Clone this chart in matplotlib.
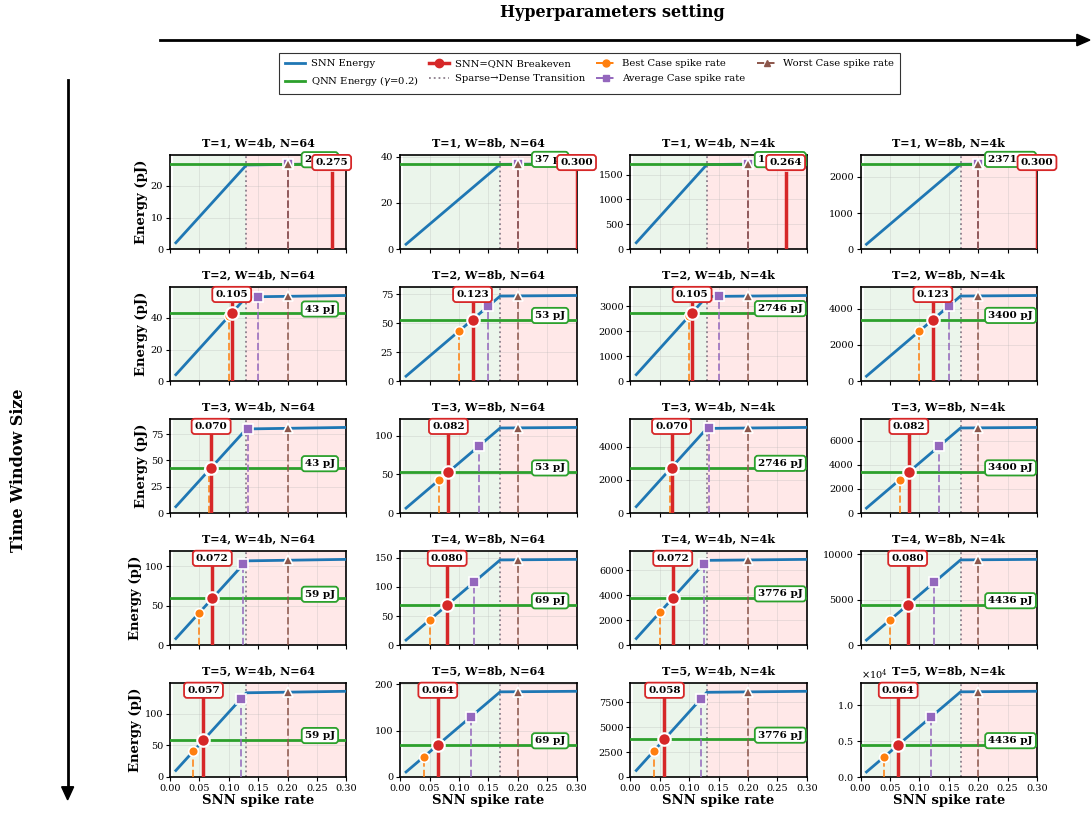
import numpy as np
import matplotlib.pyplot as plt
from matplotlib.lines import Line2D

plt.rcParams['font.family'] = 'DejaVu Serif'

# grid layout: rows = time window T, cols = (W, N) config
T_list = [1, 2, 3, 4, 5]
configs = ['W=4b, N=64', 'W=8b, N=64', 'W=4b, N=4k', 'W=8b, N=4k']
transition = [0.13, 0.17, 0.13, 0.17]   # sparse -> dense rate per config

# SNN energy curve points at rate 0.01, transition, 0.30  [row][col]
snn_start = [[2.05, 2.16, 131, 138],
             [4.1, 4.31, 262, 276],
             [6.15, 6.47, 392, 415],
             [8.2, 8.62, 523, 553],
             [10.25, 10.78, 654, 691]]
snn_knee = [[26.65, 36.65, 1700, 2350],
            [53.3, 73.3, 3400, 4699],
            [79.95, 109.96, 5100, 7049],
            [106.6, 146.6, 6800, 9398],
            [133.25, 183.3, 8500, 11748]]
snn_end = [[27.1, 36.9, 1720, 2365],
           [54.2, 73.8, 3440, 4730],
           [81.4, 110.7, 5160, 7094],
           [108.5, 147.6, 6880, 9458],
           [135.6, 184.5, 8600, 11823]]

# QNN energy (gamma=0.2)
qnn = [[27, 37, 1716, 2371],
       [43, 53, 2746, 3400],
       [43, 53, 2746, 3400],
       [59, 69, 3776, 4436],
       [59, 69, 3776, 4436]]

# breakeven spike rate
breakeven = [[0.275, 0.300, 0.264, 0.300],
             [0.105, 0.123, 0.105, 0.123],
             [0.070, 0.082, 0.070, 0.082],
             [0.072, 0.080, 0.072, 0.080],
             [0.057, 0.064, 0.058, 0.064]]

# spike rate scenarios per T
best_rate = [0.2, 0.1, 0.0667, 0.05, 0.04]
avg_rate = [0.2, 0.15, 0.1333, 0.125, 0.12]
worst_rate = [0.2, 0.2, 0.2, 0.2, 0.2]

c_snn = '#1f77b4'
c_qnn = '#2ca02c'
c_be = '#d62728'
c_best = '#ff7f0e'
c_avg = '#9467bd'
c_worst = '#8c564b'
c_tr = '#8c7f8c'

fig = plt.figure(figsize=(10.91, 8.17), dpi=100)
gs = fig.add_gridspec(5, 4, left=0.1558, right=0.9505, top=0.8103, bottom=0.049,
                      wspace=0.305, hspace=0.40)

for i, T in enumerate(T_list):
    for j, cfg in enumerate(configs):
        ax = fig.add_subplot(gs[i, j])
        rt = transition[j]
        xs = [0.01, rt, 0.30]
        ys = [snn_start[i][j], snn_knee[i][j], snn_end[i][j]]
        q = qnn[i][j]
        ymax = max(max(ys), q) * 1.1

        ax.axvspan(0.005, rt, color='green', alpha=0.08, lw=0, zorder=0)
        ax.axvspan(rt, 0.30, color='red', alpha=0.09, lw=0, zorder=0)
        ax.grid(True, alpha=0.3, lw=0.6)
        ax.set_axisbelow(True)

        ax.plot(xs, ys, color=c_snn, lw=2, zorder=3)
        ax.axhline(q, color=c_qnn, lw=2, zorder=3)
        ax.axvline(rt, color=c_tr, ls=':', lw=1.3, zorder=2)

        # scenario markers
        for r, col, mk in [(best_rate[i], c_best, 'o'), (avg_rate[i], c_avg, 's'),
                           (worst_rate[i], c_worst, '^')]:
            e = np.interp(r, xs, ys)
            ax.vlines(r, 0, e, colors=col, linestyles='--', lw=1.4, alpha=0.8, zorder=4)
            ax.plot(r, e, marker=mk, color=col, ms=7, mec='white', mew=1.2,
                    ls='none', zorder=6)

        # breakeven
        be = breakeven[i][j]
        label_y = ymax * 0.92
        ax.vlines(be, 0, label_y, colors=c_be, lw=2.5, zorder=7)
        if be < 0.3:
            be_e = np.interp(be, xs, ys)
            ax.plot(be, be_e, 'o', color=c_be, ms=9, mec='white', mew=1.5, zorder=8)

        ax.annotate('%d pJ' % q, xy=(0.255, q), xytext=(0, 3), textcoords='offset points',
                    ha='center', va='center', fontsize=7.5, fontweight='bold', zorder=9,
                    bbox=dict(boxstyle='round,pad=0.3', fc='white', ec=c_qnn, lw=1.3))
        ax.annotate('%.3f' % be, xy=(be, label_y), ha='center', va='center',
                    fontsize=7.5, fontweight='bold', zorder=10, annotation_clip=False,
                    bbox=dict(boxstyle='round,pad=0.3', fc='white', ec=c_be, lw=1.3))

        ax.set_xlim(0, 0.30)
        ax.set_ylim(0, ymax)
        ax.set_xticks([0, 0.05, 0.10, 0.15, 0.20, 0.25, 0.30])
        if i == 4:
            ax.set_xticklabels(['0.00', '0.05', '0.10', '0.15', '0.20', '0.25', '0.30'])
            ax.set_xlabel('SNN spike rate', fontsize=9.5, fontweight='bold', labelpad=1)
        else:
            ax.set_xticklabels([])
        if j == 0:
            ax.set_ylabel('Energy (pJ)', fontsize=9.5, fontweight='bold', labelpad=2)
        if max(ys) > 1e4:
            ax.ticklabel_format(axis='y', style='sci', scilimits=(4, 4), useMathText=True)
            ax.yaxis.get_offset_text().set_fontsize(7)
        ax.tick_params(labelsize=7, length=3, pad=2)
        for s in ax.spines.values():
            s.set_linewidth(1.2)
        ax.set_title('T=%d, %s' % (T, cfg), fontsize=8, fontweight='bold', pad=6)

handles = [
    Line2D([], [], color=c_snn, lw=2),
    Line2D([], [], color=c_qnn, lw=2),
    Line2D([], [], color=c_be, lw=2.5, marker='o', ms=6),
    Line2D([], [], color=c_tr, ls=':', lw=1.3),
    Line2D([], [], color=c_best, ls='--', lw=1.4, marker='o', ms=5),
    Line2D([], [], color=c_avg, ls='--', lw=1.4, marker='s', ms=5),
    Line2D([], [], color=c_worst, ls='--', lw=1.4, marker='^', ms=5),
]
labels = ['SNN Energy', r'QNN Energy ($\gamma$=0.2)', 'SNN=QNN Breakeven',
          'Sparse→Dense Transition', 'Best Case spike rate', 'Average Case spike rate',
          'Worst Case spike rate']
leg = fig.legend(handles, labels, loc='center', bbox_to_anchor=(0.540, 0.910), ncol=4,
                 fontsize=7.2, fancybox=False, edgecolor='black', columnspacing=1.1,
                 handlelength=2.0, handletextpad=0.6, borderpad=0.6, labelspacing=0.6)
leg.get_frame().set_linewidth(0.8)

# outer axis annotations
fig.text(0.561, 0.985, 'Hyperparameters setting', ha='center', va='center',
         fontsize=11.5, fontweight='bold')
fig.add_artist(plt.Line2D([0.147, 0.99], [0.951, 0.951], color='black', lw=2))
fig.patches.append(plt.Polygon([[0.999, 0.951], [0.987, 0.958], [0.987, 0.944]],
                               closed=True, color='black', transform=fig.transFigure))
fig.text(0.0165, 0.425, 'Time Window Size', ha='center', va='center', rotation=90,
         fontsize=11.5, fontweight='bold')
fig.add_artist(plt.Line2D([0.062, 0.062], [0.902, 0.03], color='black', lw=2))
fig.patches.append(plt.Polygon([[0.062, 0.021], [0.0565, 0.037], [0.0675, 0.037]],
                               closed=True, color='black', transform=fig.transFigure))

plt.savefig('out.png', dpi=100)
